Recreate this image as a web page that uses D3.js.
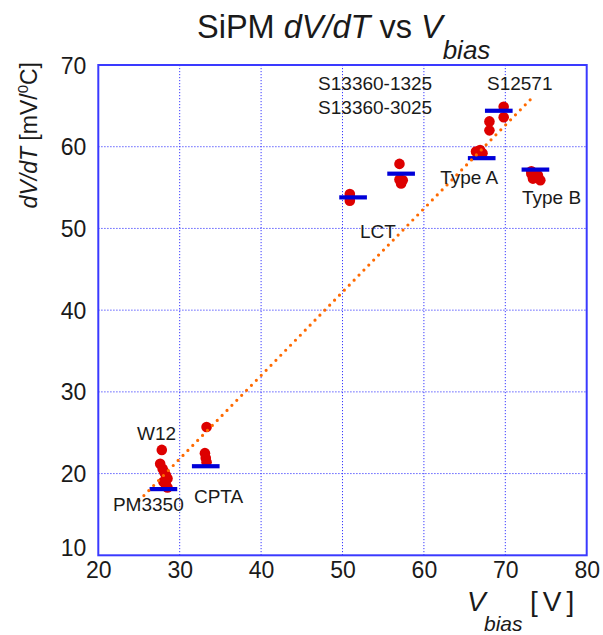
<!DOCTYPE html>
<html><head><meta charset="utf-8">
<script src="https://cdn.jsdelivr.net/npm/d3@7"></script>
<style>body{margin:0;background:#fff}svg{display:block}</style>
</head><body>
<script>
// ---- data ----
const xTicks = [20, 30, 40, 50, 60, 70, 80];
const yTicks = [10, 20, 30, 40, 50, 60, 70];
const deviceNames = ["PM3350", "CPTA", "LCT", "S13360", "Type A", "S12571", "Type B"];
const barVbias = [28.0, 33.2, 51.3, 57.2, 67.1, 69.2, 73.7];
const barDvdt  = [18.1, 20.9, 53.8, 56.7, 58.6, 64.4, 57.2];
const pointVbias = [27.8, 27.6, 27.9, 28.1, 28.3, 28.5, 28.0, 28.3, 28.5,
                    33.3, 33.1, 33.2, 33.3,
                    50.9, 50.9, 50.9,
                    57.0, 57.0, 57.4, 57.2,
                    66.4, 66.9, 67.2, 66.7,
                    68.05, 68.05, 69.8, 69.8,
                    73.2, 73.2, 74.0, 73.4, 74.3];
const pointDvdt  = [22.9, 21.2, 20.6, 20.2, 19.8, 19.4, 19.0, 18.6, 18.3,
                    25.7, 22.5, 21.9, 21.4,
                    54.2, 53.8, 53.4,
                    57.9, 56.0, 55.9, 55.5,
                    59.4, 59.6, 59.2, 59.2,
                    63.1, 62.0, 64.9, 63.6,
                    57.0, 56.7, 56.5, 56.1, 55.9];
const fitVbias = [25.0, 73.4];
const fitDvdt  = [16.7, 66.1];
const labelText  = ["W12", "PM3350", "CPTA", "LCT", "S13360-1325", "S13360-3025", "S12571", "Type A", "Type B"];
const labelVbias = [24.75, 21.8, 31.75, 52.15, 47.0, 47.0, 67.75, 62.0, 72.05];
const labelDvdt  = [24.1, 15.4, 16.4, 48.8, 66.9, 64.0, 66.9, 55.4, 53.0];

// ---- layout ----
const W = 603, H = 635;
const L = 98.3, R = 586.7, T = 65, B = 555.3;
const font = "'Liberation Sans', Arial, Helvetica, sans-serif";
const svg = d3.select("body").append("svg").attr("width", W).attr("height", H)
  .style("font-family", font);
svg.append("rect").attr("width", W).attr("height", H).attr("fill", "#fff");

const x = d3.scaleLinear().domain([20, 80]).range([L, R]);
const y = d3.scaleLinear().domain([10, 70]).range([B, T]);
const blue = "#3a3aff";

// grid
const g = svg.append("g");
g.selectAll(".gx").data(xTicks.slice(1, -1)).join("line")
  .attr("x1", d => x(d)).attr("x2", d => x(d)).attr("y1", T).attr("y2", B)
  .attr("stroke", blue).attr("stroke-width", 1).attr("stroke-dasharray", "1.2 1.8");
g.selectAll(".gy").data(yTicks.slice(1, -1)).join("line")
  .attr("y1", d => y(d)).attr("y2", d => y(d)).attr("x1", L).attr("x2", R)
  .attr("stroke", blue).attr("stroke-width", 1).attr("stroke-dasharray", "1.2 1.8");

// axes (labels only)
const ax = svg.append("g").attr("transform", `translate(0,${B})`)
  .call(d3.axisBottom(x).tickValues(xTicks).tickSize(0).tickPadding(0).tickFormat(d3.format("d")));
ax.select(".domain").remove();
ax.selectAll("text").attr("y", 23).attr("dy", 0).attr("fill", "#1a1a1a")
  .style("font-size", "23px").style("font-family", font);
const ay = svg.append("g").attr("transform", `translate(${L},0)`)
  .call(d3.axisLeft(y).tickValues(yTicks).tickSize(0).tickPadding(0).tickFormat(d3.format("d")));
ay.select(".domain").remove();
ay.selectAll("text").attr("x", -12).attr("dy", "0.35em").attr("fill", "#1a1a1a")
  .style("font-size", "23px").style("font-family", font);
ay.selectAll(".tick").filter(d => d === 10).select("text").attr("dy", "0.0em");

// frame
svg.append("rect").attr("x", L).attr("y", T).attr("width", R - L).attr("height", B - T)
  .attr("fill", "none").attr("stroke", blue).attr("stroke-width", 2);

// points
const pts = pointVbias.map((v, i) => ({v, d: pointDvdt[i]}));
svg.append("g").selectAll("circle").data(pts).join("circle")
  .attr("cx", p => x(p.v)).attr("cy", p => y(p.d)).attr("r", 5.3)
  .attr("fill", "#dd0000");

// bars
const bars = deviceNames.map((n, i) => ({n, v: barVbias[i], d: barDvdt[i]}));
svg.append("g").selectAll("line").data(bars).join("line")
  .attr("x1", b => x(b.v - 1.7)).attr("x2", b => x(b.v + 1.7))
  .attr("y1", b => y(b.d)).attr("y2", b => y(b.d))
  .attr("stroke", "#0000d8").attr("stroke-width", 4.2);

// fit line
const fit = fitVbias.map((v, i) => [v, fitDvdt[i]]);
svg.append("path").datum(fit)
  .attr("d", d3.line().x(p => x(p[0])).y(p => y(p[1])))
  .attr("fill", "none").attr("stroke", "#ff6a00").attr("stroke-width", 3.2)
  .attr("stroke-linecap", "round").attr("stroke-dasharray", "0 7");

// labels
const labs = labelText.map((t, i) => ({t, v: labelVbias[i], d: labelDvdt[i]}));
svg.append("g").selectAll("text").data(labs).join("text")
  .attr("x", l => x(l.v)).attr("y", l => y(l.d))
  .attr("fill", "#1a1a1a").style("font-size", "19px").text(l => l.t);

// title
const title = svg.append("text").attr("x", 197).attr("y", 38)
  .attr("fill", "#1a1a1a").style("font-size", "32.5px");
title.append("tspan").text("SiPM ");
title.append("tspan").attr("font-style", "italic").text("dV/dT");
title.append("tspan").text(" vs ");
title.append("tspan").attr("font-style", "italic").text("V");
title.append("tspan").attr("font-style", "italic").attr("dy", 21).style("font-size", "26px").text("bias");

// x label
svg.append("text").attr("x", 467).attr("y", 611).attr("fill", "#1a1a1a")
  .attr("font-style", "italic").style("font-size", "28px").text("V");
svg.append("text").attr("x", 484).attr("y", 631).attr("fill", "#1a1a1a")
  .attr("font-style", "italic").style("font-size", "21px").text("bias");
svg.append("text").attr("x", 530).attr("y", 611).attr("fill", "#1a1a1a")
  .style("font-size", "28px").style("letter-spacing", "5px").text("[V]");

// y label
const yl = svg.append("text").attr("transform", "translate(37,62) rotate(-90)")
  .attr("text-anchor", "end").attr("fill", "#1a1a1a").style("font-size", "23px");
yl.append("tspan").attr("font-style", "italic").text("dV/dT");
yl.append("tspan").text(" [mV/");
yl.append("tspan").attr("dy", -9).style("font-size", "15px").text("0");
yl.append("tspan").attr("dy", 9).text("C]");
</script>
</body></html>
